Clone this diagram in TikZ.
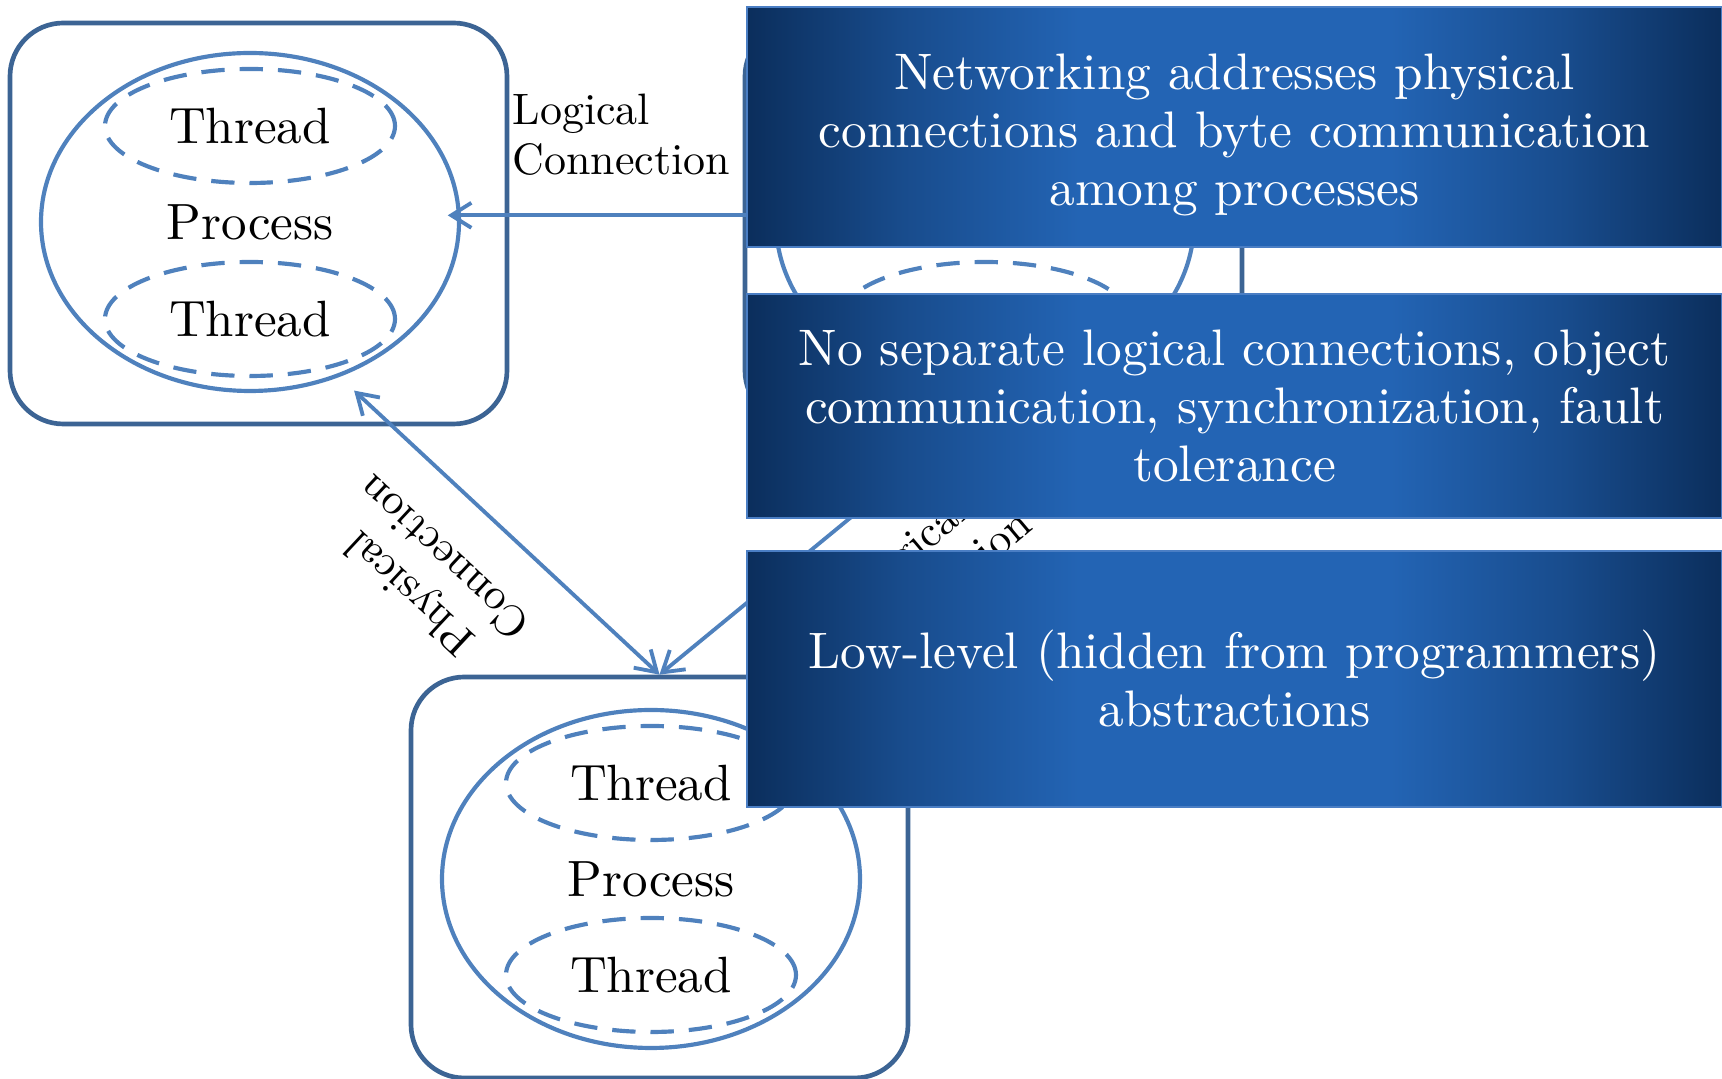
\documentclass[tikz,border=0pt]{standalone}
\usepackage{fontspec}
\usepackage{tikz}
\usetikzlibrary{shapes.geometric,arrows.meta}

\newfontfamily\lmten{lmroman10-regular.otf}

\definecolor{linkblue}{HTML}{4F81BD}
\definecolor{hostedge}{HTML}{3C6494}
\definecolor{navydark}{HTML}{0B2E5C}
\definecolor{navymid}{HTML}{2364B4}
\colorlet{navyhalf}{navydark!45!navymid}
\definecolor{noteedge}{HTML}{4A7EC4}

\pgfdeclarehorizontalshading{noteshade}{100bp}{color(0bp)=(navydark); color(25bp)=(navydark);
  color(33bp)=(navyhalf); color(42bp)=(navymid); color(58bp)=(navymid);
  color(67bp)=(navyhalf); color(75bp)=(navydark); color(100bp)=(navydark)}

\newcommand\threadfont{\lmten\fontsize{15.3}{18}\selectfont}
\newcommand\linkfont{\lmten\fontsize{13.2}{15}\selectfont}
\newcommand\notefont{\lmten\fontsize{15.4}{17.4}\selectfont}

\begin{document}
\begin{tikzpicture}[x=0.3pt,y=-0.3pt,
  barb/.tip={Straight Barb[length=6pt,width=7.5pt]},
  host/.style={draw=hostedge,line width=1.4pt,rounded corners=16pt,
    minimum width=149.1pt,minimum height=120.3pt},
  proc/.style={ellipse,draw=linkblue,line width=1.25pt,inner sep=0pt,
    minimum width=125.4pt,minimum height=101.4pt,font=\threadfont},
  thread/.style={ellipse,draw=linkblue,line width=1.25pt,inner sep=0pt,
    dash pattern=on 7pt off 4.5pt,
    minimum width=87pt,minimum height=34.2pt,font=\threadfont},
  conn/.style={draw=linkblue,line width=1.15pt},
  conlabel/.style={inner sep=0pt,font=\linkfont},
  note/.style={draw=noteedge,line width=0.6pt,inner sep=0pt,shade,shading=noteshade,
    minimum width=292.5pt,text=white,align=center,font=\notefont}]

\useasboundingbox (0,0) rectangle (1722,1079);

%host A
\node[host] (b1) at (258.5,223.5) {};
\node[proc] (p1) at (250,222) {Process};
\node[thread] (t1a) at (250,126) {Thread};
\node[thread] (t1b) at (250,319) {Thread};

%host B
\node[host] (b2) at (659.5,877.5) {};
\node[proc] (p2) at (651,879) {Process};
\node[thread] (t2a) at (651,783) {Thread};
\node[thread] (t2b) at (651,975) {Thread};

%host C (mostly hidden)
\node[host] (b3) at (993.5,223.5) {};
\node[proc] (p3) at (985,222) {};
\node[thread] (t3b) at (985,319) {};

%connections
\draw[conn,-barb,shorten >=-4pt] ([yshift=2pt]p3.west) -- ([yshift=2pt]p1.east);
\draw[conn,barb-barb,shorten <=6pt] (p1.-60) -- (b2.north);
\draw[conn,-barb] (p3.-84) -- (b2.north);

\node[conlabel,anchor=west,align=left] (lc1) at (512,135) {Logical\\Connection};
\node[conlabel,align=center,rotate=137] (pc) at (426,576) {Physical\\Connection};
\node[conlabel,align=center,rotate=40] (lc2) at (925,568) {Logical\\Connection};

%notes
\node[note,minimum height=72pt] (n1) at (1234.5,127)
  {\rule{0pt}{15.5pt}Networking addresses physical\\connections and byte communication\\among processes};
\node[note,minimum height=67.2pt] (n2) at (1234.5,406)
  {No separate logical connections, object\\communication, synchronization, fault\\tolerance};
\node[note,minimum height=76.8pt] (n3) at (1234.5,679)
  {Low-level (hidden from programmers)\\abstractions};

\end{tikzpicture}
\end{document}
